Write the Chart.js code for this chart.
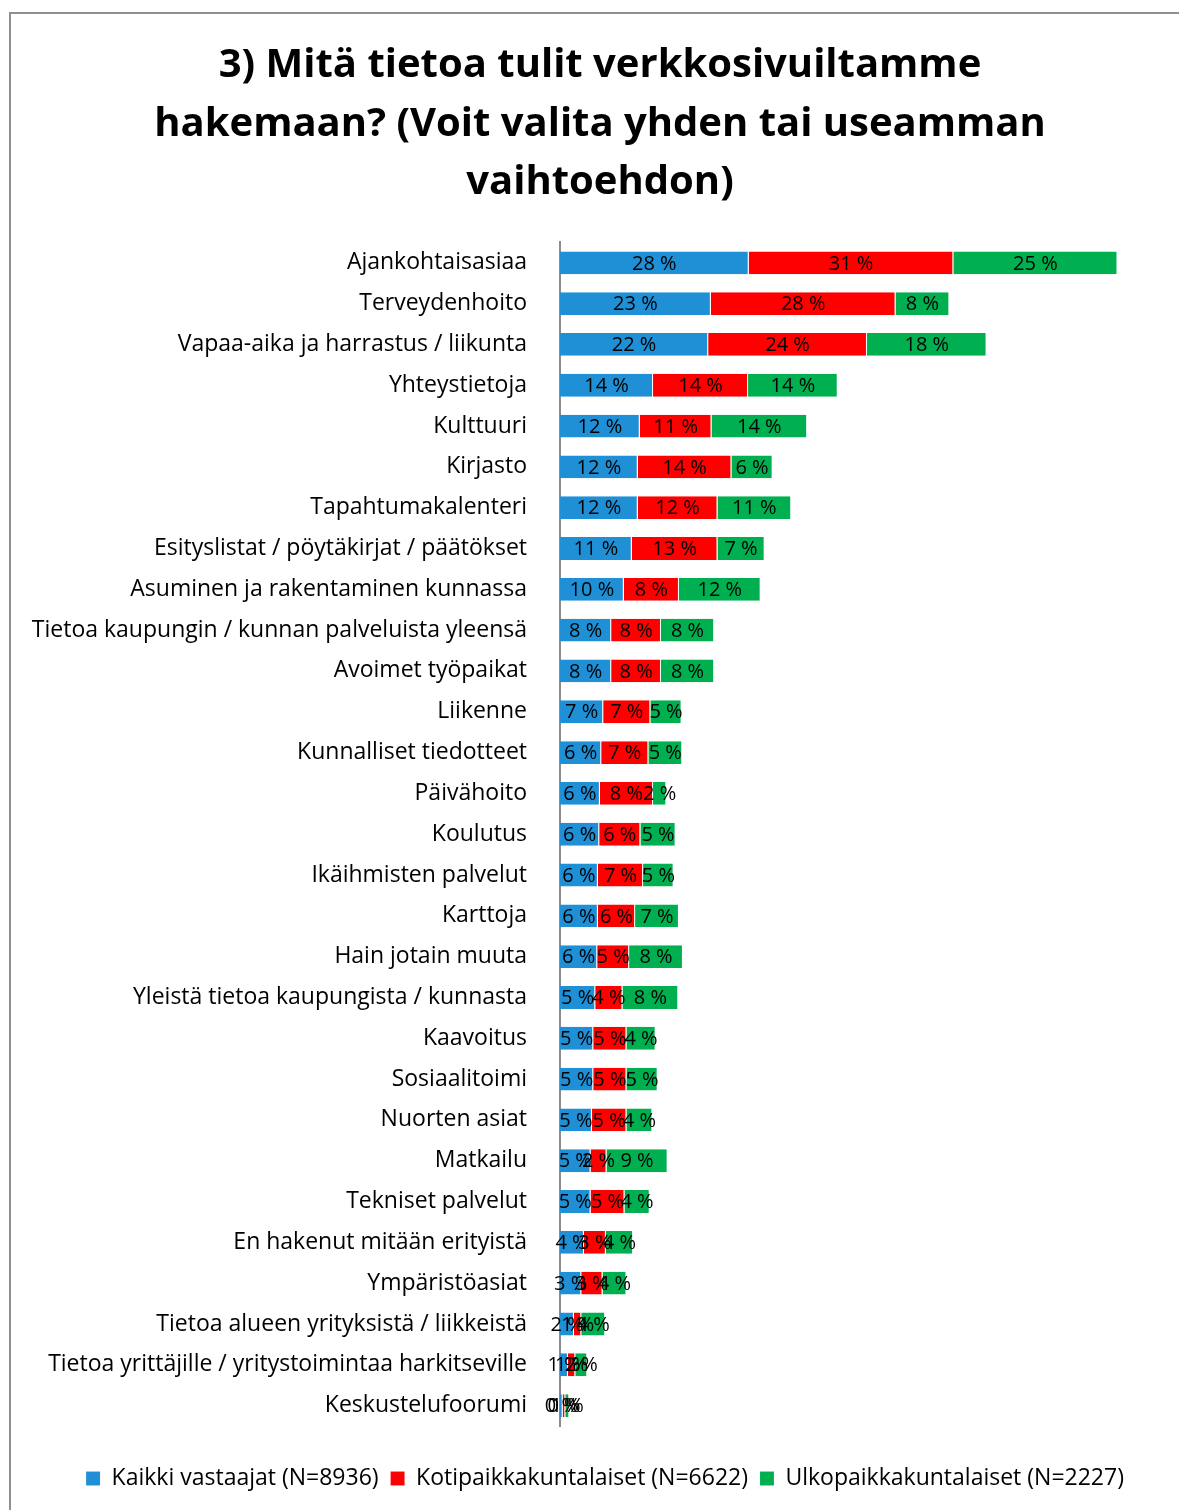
<!DOCTYPE html>
<html>
<head>
<meta charset="utf-8">
<script src="https://cdn.jsdelivr.net/npm/chart.js@4"></script>
<style>
  html, body { margin: 0; padding: 0; background: #fff; }
  .frame {
    position: absolute; left: 9px; top: 12px; right: -5px; bottom: -5px;
    border-left: 2px solid #8f8f8f; border-top: 2px solid #8f8f8f;
  }
  .wrap { position: absolute; left: 0; top: 0; width: 1179px; height: 1510px; }
</style>
</head>
<body>
<div class="frame"></div>
<div class="wrap"><canvas id="chart" width="1179" height="1510"></canvas></div>
<script>
const categories = [
    "Ajankohtaisasiaa",
    "Terveydenhoito",
    "Vapaa-aika ja harrastus / liikunta",
    "Yhteystietoja",
    "Kulttuuri",
    "Kirjasto",
    "Tapahtumakalenteri",
    "Esityslistat / pöytäkirjat / päätökset",
    "Asuminen ja rakentaminen kunnassa",
    "Tietoa kaupungin / kunnan palveluista yleensä",
    "Avoimet työpaikat",
    "Liikenne",
    "Kunnalliset tiedotteet",
    "Päivähoito",
    "Koulutus",
    "Ikäihmisten palvelut",
    "Karttoja",
    "Hain jotain muuta",
    "Yleistä tietoa kaupungista / kunnasta",
    "Kaavoitus",
    "Sosiaalitoimi",
    "Nuorten asiat",
    "Matkailu",
    "Tekniset palvelut",
    "En hakenut mitään erityistä",
    "Ympäristöasiat",
    "Tietoa alueen yrityksistä / liikkeistä",
    "Tietoa yrittäjille / yritystoimintaa harkitseville",
    "Keskustelufoorumi",
];

const kaikki = [28.4, 22.7, 22.3, 14.0, 12.0, 11.7, 11.7, 10.8, 9.6, 7.7, 7.7, 6.5, 6.2, 6.0, 5.9, 5.7, 5.7, 5.6, 5.3, 5.0, 5.0, 4.8, 4.6, 4.6, 3.6, 3.2, 2.1, 1.2, 0.4];
const koti = [30.8, 27.8, 23.9, 14.3, 10.8, 14.1, 12.0, 12.9, 8.3, 7.5, 7.5, 7.1, 7.1, 8.0, 6.2, 6.8, 5.6, 4.8, 4.1, 5.0, 5.0, 5.2, 2.4, 5.1, 3.3, 3.2, 1.1, 1.1, 0.4];
const ulko = [24.7, 8.1, 18.0, 13.5, 14.4, 6.2, 11.1, 7.1, 12.3, 8.0, 8.0, 4.7, 5.1, 2.0, 5.3, 4.6, 6.6, 8.1, 8.4, 4.4, 4.7, 3.9, 9.2, 3.8, 4.1, 3.6, 3.6, 1.8, 0.6];

const seriesNames = [
    "Kaikki vastaajat (N=8936)",
    "Kotipaikkakuntalaiset (N=6622)",
    "Ulkopaikkakuntalaiset (N=2227)",
];
const titleLines = [
    "3) Mitä tietoa tulit verkkosivuiltamme",
    "hakemaan? (Voit valita yhden tai useamman",
    "vaihtoehdon)",
];

const FONT = "'Open Sans', 'Noto Sans', sans-serif";

// numbers written in the middle of every segment
const barLabels = {
    id: "barLabels",
    afterDatasetsDraw(chart) {
        const c = chart.ctx;
        c.save();
        c.font = "20px " + FONT;
        c.fillStyle = "#000";
        c.textAlign = "center";
        c.textBaseline = "middle";
        chart.data.datasets.forEach((ds, i) => {
            const meta = chart.getDatasetMeta(i);
            meta.data.forEach((bar, j) => {
                const cx = (bar.x + bar.base) / 2;
                c.fillText(Math.round(ds.data[j]) + " %", cx, bar.y + 1);
            });
        });
        c.restore();
    },
};

// title and legend sit a bit right of the canvas centre in the original
const blockShift = {
    id: "blockShift",
    afterLayout(chart) {
        chart.legend.left += 26;
        chart.legend.right += 26;
        chart.titleBlock.left += 21;
        chart.titleBlock.right += 21;
    },
};

const mk = (label, data, color) => ({
    label,
    data,
    backgroundColor: color,
    borderColor: "rgba(255,255,255,0.35)",
    borderWidth: { right: 1 },
    borderSkipped: false,
    barPercentage: 0.56,
    categoryPercentage: 1.0,
});

new Chart(document.getElementById("chart"), {
    type: "bar",
    data: {
        labels: categories,
        datasets: [
            mk(seriesNames[0], kaikki, "#1f8fd6"),
            mk(seriesNames[1], koti, "#ff0000"),
            mk(seriesNames[2], ulko, "#00b050"),
        ],
    },
    options: {
        indexAxis: "y",
        responsive: false,
        animation: false,
        layout: { padding: { left: 0, right: 21, top: 0, bottom: 10 } },
        plugins: {
            title: {
                display: true,
                text: titleLines,
                color: "#000",
                font: { family: FONT, size: 40, weight: "bold", lineHeight: 1.47 },
                padding: { top: 36, bottom: 30 },
            },
            legend: {
                position: "bottom",
                labels: {
                    color: "#000",
                    font: { family: FONT, size: 23 },
                    boxWidth: 14,
                    boxHeight: 14,
                    padding: 12,
                },
            },
            tooltip: { enabled: false },
        },
        scales: {
            x: {
                stacked: true,
                min: 0,
                max: 90,
                grid: { display: false },
                border: { display: false },
                ticks: { display: false },
                afterFit: (scale) => { scale.height = 29; },
            },
            y: {
                stacked: true,
                grid: { display: false },
                border: { display: true, color: "#8c8c8c", width: 2 },
                ticks: {
                    color: "#000",
                    font: { family: FONT, size: 23 },
                    padding: 25,
                    autoSkip: false,
                },
                afterFit: (scale) => { scale.width = 560; },
            },
        },
    },
    plugins: [barLabels, blockShift],
});
</script>
</body>
</html>
